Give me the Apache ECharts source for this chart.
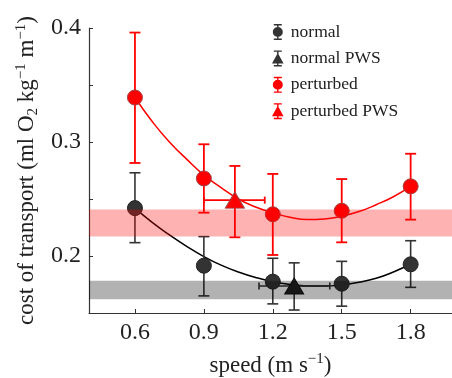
<!DOCTYPE html>
<html><head><meta charset="utf-8">
<script src="https://cdn.jsdelivr.net/npm/echarts@6/dist/echarts.min.js"></script>
<style>html,body{margin:0;padding:0;background:#fff}#c{width:452px;height:378px}</style>
</head><body><div id="c"></div>
<script>
// ---- data ----
var speeds = [0.6, 0.9, 1.2, 1.5, 1.8];
var normalMean = [0.242, 0.1915, 0.1775, 0.1757, 0.1927];
var normalLow  = [0.2117, 0.165, 0.158, 0.156, 0.1725];
var normalHigh = [0.273, 0.217, 0.198, 0.1953, 0.2134];
var pertMean = [0.339, 0.268, 0.2366, 0.2397, 0.2611];
var pertLow  = [0.2816, 0.238, 0.2009, 0.212, 0.2319];
var pertHigh = [0.396, 0.298, 0.272, 0.2675, 0.2897];
// preferred walking speed points: [speed, cot], y err [low, high], x err [low, high]
var normalPWS = [1.293, 0.1737]; var normalPWSy = [0.1526, 0.194]; var normalPWSx = [1.14, 1.448];
var pertPWS = [1.035, 0.249]; var pertPWSy = [0.2164, 0.279]; var pertPWSx = [0.9, 1.165];
// fitted curves
var fitX = [0.6, 0.675, 0.75, 0.825, 0.9, 0.975, 1.05, 1.125, 1.2, 1.275, 1.35, 1.425, 1.5, 1.575, 1.65, 1.725, 1.8];
var normalFit = [0.242, 0.2295, 0.2185, 0.2085, 0.1995, 0.192, 0.186, 0.1812, 0.1775, 0.1750, 0.1737, 0.1736, 0.1747, 0.1770, 0.1805, 0.1860, 0.1930];
var pertFit = [0.339, 0.318, 0.300, 0.285, 0.271, 0.260, 0.250, 0.243, 0.238, 0.234, 0.232, 0.2325, 0.235, 0.239, 0.245, 0.252, 0.261];
// shaded bands [low, high]
var normalBand = [0.162, 0.1783];
var pertBand = [0.217, 0.2407];
var xTicks = [0.6, 0.9, 1.2, 1.5, 1.8];
var yLabels = [0.2, 0.3, 0.4];

var RED = '#ff0000', BLK = '#333333';
var FONT = "'Liberation Serif', 'Times New Roman', serif";

function zip(a, b) { return a.map(function (v, i) { return [v, b[i]]; }); }
function errData(x, lo, hi) { return x.map(function (v, i) { return [v, lo[i], hi[i]]; }); }

function vErr(color, lw) {
  return function (params, api) {
    var x = api.value(0), lo = api.coord([x, api.value(1)]), hi = api.coord([x, api.value(2)]);
    var w = 5.5;
    var st = { stroke: color, lineWidth: lw };
    return { type: 'group', children: [
      { type: 'line', shape: { x1: lo[0], y1: lo[1], x2: hi[0], y2: hi[1] }, style: st },
      { type: 'line', shape: { x1: lo[0] - w, y1: lo[1], x2: lo[0] + w, y2: lo[1] }, style: st },
      { type: 'line', shape: { x1: hi[0] - w, y1: hi[1], x2: hi[0] + w, y2: hi[1] }, style: st }
    ]};
  };
}
function hErr(color, lw) {
  return function (params, api) {
    var y = api.value(0), lo = api.coord([api.value(1), y]), hi = api.coord([api.value(2), y]);
    var h = 3.5;
    var st = { stroke: color, lineWidth: lw };
    return { type: 'group', children: [
      { type: 'line', shape: { x1: lo[0], y1: lo[1], x2: hi[0], y2: hi[1] }, style: st },
      { type: 'line', shape: { x1: lo[0], y1: lo[1] - h, x2: lo[0], y2: lo[1] + h }, style: st },
      { type: 'line', shape: { x1: hi[0], y1: hi[1] - h, x2: hi[0], y2: hi[1] + h }, style: st }
    ]};
  };
}
function band(color) {
  return function (params, api) {
    var cs = params.coordSys;
    var a = api.coord([0.4, api.value(1)]), b = api.coord([0.4, api.value(0)]);
    return { type: 'rect', shape: { x: cs.x, y: a[1], width: cs.width, height: b[1] - a[1] },
      style: { fill: color } };
  };
}

var circIcon = 'path://M2,0H10V1.4H2Z M5.3,0H6.7V16H5.3Z M2,14.6H10V16H2Z M1,8A5,5 0 1 1 11,8A5,5 0 1 1 1,8Z';
var triIcon = 'path://M2,0H10V1.4H2Z M5.3,0H6.7V16H5.3Z M2,14.6H10V16H2Z M6,2.5L11.8,13H0.2Z';

var chart = echarts.init(document.getElementById('c'));
chart.setOption({
  animation: false,
  grid: { left: 89, right: 0, top: 28, bottom: 65, containLabel: false, outerBoundsMode: 'none' },
  legend: {
    left: 267, top: 18, orient: 'vertical', itemWidth: 12, itemHeight: 16, itemGap: 8.4,
    textStyle: { fontFamily: FONT, fontSize: 17.5, color: '#222', padding: [0, 0, 0, 2] },
    data: [
      { name: 'normal', icon: circIcon, itemStyle: { color: BLK, borderWidth: 0 } },
      { name: 'normal PWS', icon: triIcon, itemStyle: { color: BLK, borderWidth: 0 } },
      { name: 'perturbed', icon: circIcon, itemStyle: { color: RED, borderWidth: 0 } },
      { name: 'perturbed PWS', icon: triIcon, itemStyle: { color: RED, borderWidth: 0 } }
    ]
  },
  xAxis: {
    type: 'value', min: 0.4, max: 1.98,
    axisLine: { lineStyle: { color: '#333', width: 1.2 } },
    axisTick: { inside: true, length: 4, customValues: xTicks, lineStyle: { color: '#333' } },
    splitLine: { show: false },
    axisLabel: { customValues: xTicks, fontFamily: FONT, fontSize: 24, color: '#222', margin: 8 },
    name: '{a|speed (m s}{sup|−1}{a|)}', nameLocation: 'middle', nameGap: 39,
    nameTextStyle: { fontFamily: FONT, color: '#222',
      rich: { a: { fontFamily: FONT, fontSize: 23, color: '#222', lineHeight: 27 },
              sup: { fontFamily: FONT, fontSize: 15, color: '#222', verticalAlign: 'top' } } }
  },
  yAxis: {
    type: 'value', min: 0.15, max: 0.4, interval: 0.05,
    axisLine: { show: true, lineStyle: { color: '#333', width: 1.2 } },
    axisTick: { show: true, inside: true, length: 4, lineStyle: { color: '#333' } },
    splitLine: { show: false },
    axisLabel: { customValues: yLabels, fontFamily: FONT, fontSize: 24, color: '#222', margin: 8 },
    name: '{a|cost of transport (ml O}{sub|2}{a| kg}{sup|−1}{a| m}{sup|−1}{a|)}',
    nameLocation: 'middle', nameGap: 40, nameRotate: 90,
    nameTextStyle: { fontFamily: FONT, color: '#222',
      rich: { a: { fontFamily: FONT, fontSize: 23, color: '#222', lineHeight: 27 },
              sup: { fontFamily: FONT, fontSize: 15, color: '#222', verticalAlign: 'top' },
              sub: { fontFamily: FONT, fontSize: 15, color: '#222', verticalAlign: 'bottom' } } }
  },
  series: [
    { type: 'line', name: 'normal fit', data: zip(fitX, normalFit), smooth: true, showSymbol: false,
      lineStyle: { color: '#000', width: 1.5 }, z: 2, silent: true },
    { type: 'line', name: 'perturbed fit', data: zip(fitX, pertFit), smooth: true, showSymbol: false,
      lineStyle: { color: RED, width: 1.5 }, z: 2, silent: true },
    { type: 'custom', name: 'nerr', data: errData(speeds, normalLow, normalHigh), renderItem: vErr(BLK, 1.6), z: 3 },
    { type: 'custom', name: 'perr', data: errData(speeds, pertLow, pertHigh), renderItem: vErr(RED, 1.8), z: 3 },
    { type: 'custom', name: 'npwsy', data: [[normalPWS[0], normalPWSy[0], normalPWSy[1]]], renderItem: vErr(BLK, 1.6), z: 3 },
    { type: 'custom', name: 'ppwsy', data: [[pertPWS[0], pertPWSy[0], pertPWSy[1]]], renderItem: vErr(RED, 1.8), z: 3 },
    { type: 'custom', name: 'npwsx', data: [[normalPWS[1], normalPWSx[0], normalPWSx[1]]], renderItem: hErr(BLK, 1.6), z: 3 },
    { type: 'custom', name: 'ppwsx', data: [[pertPWS[1], pertPWSx[0], pertPWSx[1]]], renderItem: hErr(RED, 1.8), z: 3 },
    { type: 'scatter', name: 'normal', data: zip(speeds, normalMean), symbol: 'circle', symbolSize: 15,
      itemStyle: { color: BLK, borderColor: '#222', borderWidth: 1, opacity: 1 }, z: 4 },
    { type: 'scatter', name: 'normal PWS', data: [normalPWS], symbol: 'triangle', symbolSize: [19, 16],
      itemStyle: { color: '#222', borderColor: '#111', borderWidth: 1, opacity: 1 }, z: 4 },
    { type: 'scatter', name: 'perturbed', data: zip(speeds, pertMean), symbol: 'circle', symbolSize: 15,
      itemStyle: { color: RED, borderColor: '#a04040', borderWidth: 1, opacity: 1 }, z: 4 },
    { type: 'scatter', name: 'perturbed PWS', data: [pertPWS], symbol: 'triangle', symbolSize: [19, 16],
      itemStyle: { color: RED, borderColor: '#a04040', borderWidth: 1, opacity: 1 }, z: 4 },
    { type: 'custom', name: 'nband', data: [normalBand], renderItem: band('rgba(0,0,0,0.3)'), z: 5, silent: true },
    { type: 'custom', name: 'pband', data: [pertBand], renderItem: band('rgba(255,0,0,0.3)'), z: 5, silent: true }
  ]
});
</script>
</body></html>
